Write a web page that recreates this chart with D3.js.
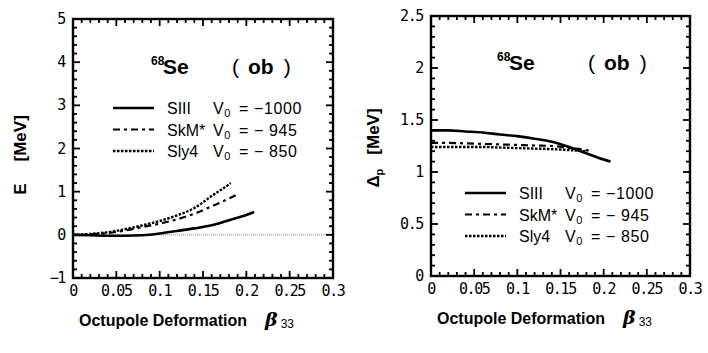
<!DOCTYPE html>
<html>
<head>
<meta charset="utf-8">
<script src="https://cdn.jsdelivr.net/npm/d3@7"></script>
<style>
  body { margin: 0; background: #fff; }
  svg { display: block; }
  .tick-label { font-family: "DejaVu Sans Mono", monospace; font-size: 15px; letter-spacing: -1.4px; }
  .title { font-family: "Liberation Sans", Arial, sans-serif; font-weight: bold; }
  .leg { font-family: "Liberation Sans", Arial, sans-serif; font-size: 16px; }
</style>
</head>
<body>
<svg width="708" height="353"></svg>
<script>
// beta_33 values, left panel (energy)
const betaSIII_E = [0, 0.02, 0.04, 0.06, 0.08, 0.1, 0.12, 0.14, 0.16, 0.18, 0.2, 0.209];
const energySIII = [0, -0.01, -0.02, -0.02, -0.01, 0.03, 0.09, 0.15, 0.22, 0.34, 0.46, 0.53];
const betaSkM_E = [0, 0.02, 0.04, 0.06, 0.08, 0.1, 0.12, 0.14, 0.16, 0.18, 0.188];
const energySkM = [0, 0.01, 0.04, 0.1, 0.18, 0.26, 0.36, 0.49, 0.66, 0.84, 0.92];
const betaSLy_E = [0, 0.02, 0.04, 0.06, 0.08, 0.1, 0.12, 0.14, 0.16, 0.18, 0.182];
const energySLy = [0, 0.02, 0.06, 0.13, 0.22, 0.32, 0.45, 0.62, 0.9, 1.17, 1.2];

// right panel (proton pairing gap)
const betaSIII_D = [0, 0.02, 0.04, 0.06, 0.08, 0.1, 0.12, 0.14, 0.16, 0.18, 0.2, 0.208];
const gapSIII = [1.4, 1.4, 1.39, 1.38, 1.36, 1.345, 1.32, 1.29, 1.24, 1.18, 1.12, 1.1];
const betaSkM_D = [0, 0.02, 0.04, 0.06, 0.08, 0.1, 0.12, 0.14, 0.16, 0.18, 0.186];
const gapSkM = [1.28, 1.28, 1.275, 1.27, 1.265, 1.26, 1.255, 1.25, 1.23, 1.21, 1.19];
const betaSLy_D = [0, 0.02, 0.04, 0.06, 0.08, 0.1, 0.12, 0.14, 0.16, 0.18];
const gapSLy = [1.24, 1.24, 1.24, 1.24, 1.235, 1.23, 1.225, 1.22, 1.21, 1.2];

const xTicks = [0, 0.05, 0.1, 0.15, 0.2, 0.25, 0.3];
const xTickLabels = ["0", "0.05", "0.1", "0.15", "0.2", "0.25", "0.3"];
const yTicksE = [-1, 0, 1, 2, 3, 4, 5];
const yTicksD = [0, 0.5, 1, 1.5, 2, 2.5];
const yTickLabelsD = ["0", "0.5", "1", "1.5", "2", "2.5"];

const legNames = ["SIII", "SkM*", "Sly4"];
const legV0 = ["\u22121000", "\u2212 945", "\u2212 850"];

const styles = [
  { dash: null, width: 2.6 },
  { dash: "7,4,3,4", width: 2.2 },
  { dash: "2.5,1.5", width: 2.4 }
];

const svg = d3.select("svg");

function panel(o) {
  const g = svg.append("g");
  const x = d3.scaleLinear().domain([0, 0.3]).range([o.left, o.right]);
  const y = d3.scaleLinear().domain(o.yDomain).range([o.bottom, o.top]);

  // zero reference line
  if (o.zeroLine) {
    g.append("line")
      .attr("x1", x(0)).attr("x2", x(0.3))
      .attr("y1", y(0)).attr("y2", y(0))
      .attr("stroke", "#888").attr("stroke-width", 1)
      .attr("stroke-dasharray", "1,1");
  }

  // minor / major ticks, all four sides, pointing inward
  const xMinor = d3.range(0, 0.3001, 0.01);
  xMinor.forEach(v => {
    const major = Math.abs(v / 0.05 - Math.round(v / 0.05)) < 1e-6;
    const len = major ? 7 : 4;
    g.append("line").attr("x1", x(v)).attr("x2", x(v))
      .attr("y1", o.bottom).attr("y2", o.bottom - len)
      .attr("stroke", "#000").attr("stroke-width", 1.8);
    g.append("line").attr("x1", x(v)).attr("x2", x(v))
      .attr("y1", o.top).attr("y2", o.top + len)
      .attr("stroke", "#000").attr("stroke-width", 1.8);
  });
  const yMinor = d3.range(o.yDomain[0], o.yDomain[1] + 1e-6, o.yMinor);
  yMinor.forEach(v => {
    const major = Math.abs(v / o.yMajor - Math.round(v / o.yMajor)) < 1e-6;
    const len = major ? 7 : 4;
    g.append("line").attr("x1", o.left).attr("x2", o.left + len)
      .attr("y1", y(v)).attr("y2", y(v))
      .attr("stroke", "#000").attr("stroke-width", 1.8);
    g.append("line").attr("x1", o.right).attr("x2", o.right - len)
      .attr("y1", y(v)).attr("y2", y(v))
      .attr("stroke", "#000").attr("stroke-width", 1.8);
  });

  g.append("rect")
    .attr("x", o.left).attr("y", o.top)
    .attr("width", o.right - o.left).attr("height", o.bottom - o.top)
    .attr("fill", "none").attr("stroke", "#000").attr("stroke-width", 2.4);

  // tick labels
  g.selectAll(".xl").data(xTicks).enter().append("text")
    .attr("class", "tick-label")
    .attr("x", d => x(d)).attr("y", o.bottom + 18)
    .attr("text-anchor", "middle")
    .text((d, i) => xTickLabels[i]);
  g.selectAll(".yl").data(o.yTicks).enter().append("text")
    .attr("class", "tick-label")
    .attr("x", o.left - 8).attr("y", d => y(d) + 5)
    .attr("text-anchor", "end")
    .text((d, i) => o.yLabels[i]);

  // curves
  const line = d3.line().x(d => x(d[0])).y(d => y(d[1])).curve(d3.curveMonotoneX);
  o.series.forEach((s, i) => {
    g.append("path")
      .datum(d3.zip(s[0], s[1]))
      .attr("fill", "none").attr("stroke", "#000")
      .attr("stroke-width", styles[i].width)
      .attr("stroke-dasharray", styles[i].dash)
      .attr("d", line);
  });

  // nucleus label
  const lx = o.labelX, ly0 = o.labelY;
  g.append("text").attr("class", "title").attr("font-weight", "normal")
    .attr("x", lx).attr("y", ly0 - 9).attr("font-size", 12).text("68");
  g.append("text").attr("class", "title")
    .attr("x", lx + 12).attr("y", ly0).attr("font-size", 21).text("Se");
  const ob = g.append("text").attr("class", "title")
    .attr("x", o.obX).attr("y", ly0).attr("font-size", 21);
  ob.append("tspan").attr("font-weight", "normal").text("(");
  ob.append("tspan").attr("dx", 9).text("ob");
  ob.append("tspan").attr("dx", 10).attr("font-weight", "normal").text(")");

  // legend
  legNames.forEach((n, i) => {
    const ly = o.legY + i * 21.5;
    g.append("line")
      .attr("x1", o.legX).attr("x2", o.legX + 41)
      .attr("y1", ly).attr("y2", ly)
      .attr("stroke", "#000").attr("stroke-width", styles[i].width)
      .attr("stroke-dasharray", styles[i].dash);
    g.append("text").attr("class", "leg")
      .attr("x", o.legX + 54).attr("y", ly + 6).text(n);
    const v = g.append("text").attr("class", "leg")
      .attr("x", o.legX + 100).attr("y", ly + 6).attr("letter-spacing", 0.6);
    v.append("tspan").text("V");
    v.append("tspan").attr("font-size", 11).attr("dy", 3).text("0");
    v.append("tspan").attr("dy", -3).attr("dx", 8).text("=  " + legV0[i]);
  });

  // x axis title
  const xt = g.append("text").attr("class", "title")
    .attr("x", o.left + 6).attr("y", o.bottom + 48)
    .attr("font-size", 16);
  xt.append("tspan").text("Octupole Deformation");
  xt.append("tspan").attr("dx", 18).attr("font-style", "italic")
    .attr("font-family", "DejaVu Serif").attr("font-size", 19).text("\u03b2");
  xt.append("tspan").attr("font-size", 12).attr("font-weight", "normal")
    .attr("dx", 3).attr("dy", 2).text("33");

  // y axis title
  const yt = g.append("text").attr("class", "title")
    .attr("transform", `translate(${o.yTitleX},${o.yTitleY}) rotate(-90)`)
    .attr("text-anchor", "middle").attr("font-size", 17);
  o.yTitle(yt);
}

panel({
  left: 73, right: 333, top: 19, bottom: 278,
  yDomain: [-1, 5], yMinor: 0.2, yMajor: 1,
  yTicks: yTicksE, yLabels: yTicksE.map(d => d < 0 ? "\u2212" + Math.abs(d) : String(d)),
  zeroLine: true,
  series: [[betaSIII_E, energySIII], [betaSkM_E, energySkM], [betaSLy_E, energySLy]],
  labelX: 151, labelY: 74, obX: 232,
  legX: 113, legY: 108,
  yTitleX: 26, yTitleY: 155,
  yTitle: t => { t.append("tspan").text("E"); t.append("tspan").attr("dx", 22).text("[MeV]"); }
});

panel({
  left: 431, right: 690, top: 16, bottom: 276,
  yDomain: [0, 2.5], yMinor: 0.1, yMajor: 0.5,
  yTicks: yTicksD, yLabels: yTickLabelsD,
  zeroLine: false,
  series: [[betaSIII_D, gapSIII], [betaSkM_D, gapSkM], [betaSLy_D, gapSLy]],
  labelX: 497, labelY: 70, obX: 588,
  legX: 465, legY: 193,
  yTitleX: 379, yTitleY: 148,
  yTitle: t => {
    t.append("tspan").text("\u0394");
    t.append("tspan").attr("font-size", 11).attr("dy", 4).text("p");
    t.append("tspan").attr("dy", -4).attr("dx", 14).text("[MeV]");
  }
});
</script>
</body>
</html>
